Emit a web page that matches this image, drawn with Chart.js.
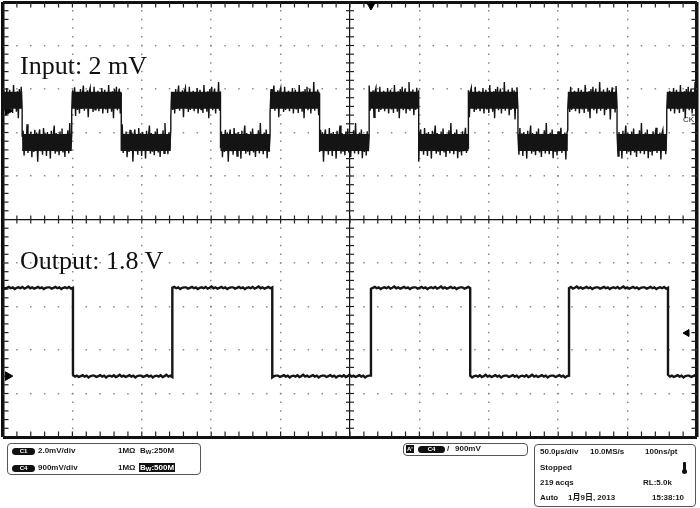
<!DOCTYPE html>
<html>
<head>
<meta charset="utf-8">
<script src="https://cdn.jsdelivr.net/npm/chart.js@4.4.1/dist/chart.umd.min.js"></script>
<style>
body{margin:0;background:#fff;}
#wrap{position:relative;width:700px;height:508px;overflow:hidden;background:#fff;}
canvas{position:absolute;left:0;top:0;}
.t{position:absolute;white-space:nowrap;}
.serif{font-family:"Liberation Serif","DejaVu Serif",serif;font-size:26px;line-height:26px;color:#111;}
.st{font-family:"Liberation Sans",Arial,"Noto Sans CJK JP",sans-serif;font-weight:bold;font-size:8px;line-height:8px;color:#1a1a1a;}
.st sub{font-size:6px;line-height:6px;vertical-align:-1px;}
.box{position:absolute;border:1px solid #555;border-radius:4px;box-sizing:border-box;}
.pill{position:absolute;background:#111;color:#fff;border-radius:4px;font-family:"Liberation Sans",Arial,sans-serif;font-weight:bold;font-size:6px;line-height:7px;height:7px;text-align:center;}
.inv{position:absolute;background:#111;color:#fff;font-family:"Liberation Sans",Arial,sans-serif;font-weight:bold;font-size:8px;line-height:9px;height:9px;padding:0 1px;}
</style>
</head>
<body>
<div id="wrap">
<canvas id="c" width="700" height="508"></canvas>
<div class="t serif" style="left:20px;top:53px">Input: 2 mV</div>
<div class="t serif" style="left:20px;top:248px">Output: 1.8 V</div>
<div class="t st" style="left:683px;top:116px;font-weight:normal;font-size:8px;">CK</div>

<div class="box" style="left:7px;top:443px;width:194px;height:32px"></div>
<div class="pill" style="left:12px;top:448px;width:23px">C1</div>
<div class="t st" style="left:38px;top:447px">2.0mV/div</div>
<div class="t st" style="left:118px;top:447px">1MΩ</div>
<div class="t st" style="left:140px;top:447px">B<sub>W</sub>:250M</div>
<div class="pill" style="left:12px;top:465px;width:23px">C4</div>
<div class="t st" style="left:38px;top:464px">900mV/div</div>
<div class="t st" style="left:118px;top:464px">1MΩ</div>
<div class="inv st" style="left:139px;top:463px;color:#fff">B<sub>W</sub>:500M</div>

<div class="box" style="left:403px;top:443px;width:125px;height:13px"></div>
<div class="inv st" style="left:406px;top:445px;height:8px;line-height:8px;font-size:6px;color:#fff">A'</div>
<div class="pill" style="left:418px;top:446px;width:27px">C4</div>
<div class="t st" style="left:447px;top:445px">/</div>
<div class="t st" style="left:455px;top:445px">900mV</div>

<div class="box" style="left:534px;top:444px;width:162px;height:63px"></div>
<div class="t st" style="left:540px;top:448px">50.0µs/div</div>
<div class="t st" style="left:590px;top:448px">10.0MS/s</div>
<div class="t st" style="left:645px;top:448px">100ns/pt</div>
<div class="t st" style="left:540px;top:464px">Stopped</div>
<div style="position:absolute;left:683px;top:462px;width:3px;height:9px;background:#111;border-radius:1px"></div>
<div style="position:absolute;left:682px;top:469px;width:5px;height:5px;background:#111;border-radius:50%"></div>
<div class="t st" style="left:540px;top:479px">219 acqs</div>
<div class="t st" style="left:643px;top:479px">RL:5.0k</div>
<div class="t st" style="left:540px;top:494px">Auto</div>
<div class="t st" style="left:568px;top:494px">1月9日, 2013</div>
<div class="t st" style="left:652px;top:494px">15:38:10</div>
</div>

<script>
// ---- Data (time in µs, vertical values in screen divisions) ----
const timeRange = [-250, 250];           // 50 µs/div, 10 divisions
const levelRange = [-5, 5];              // 10 vertical divisions
const inputEdges = [-236.2, -200.5, -164.8, -129.1, -93.3, -57.6, -21.9, 13.8, 49.5, 85.3, 121.0, 156.9, 192.4, 228.2];
const inputLevels = [2.74, 1.77];        // [high, low] (starts high)
const inputNoise = [0.22,-0.25,0.12,-0.18,0.28,-0.3,0.08,0.24,-0.21,0.19,-0.29,0.35,-0.14,0.17,-0.26,0.21,-0.41,0.26,-0.16,0.31,
  -0.23,0.13,0.27,-0.3,0.18,-0.19,0.42,-0.24,0.2,-0.13,0.25,-0.34,0.16,-0.22,0.29,-0.17,0.23,-0.44,0.14,0.3,
  -0.2,0.18,-0.28,0.33,-0.15,0.21,-0.31,0.24,-0.12,0.19,-0.37,0.27,-0.18,0.15,0.39,-0.26,0.22,-0.21,0.12,-0.29,
  0.25,-0.16,0.32,-0.23,0.17,-0.33,0.2,-0.11,0.28,-0.25,0.45,-0.19,0.16,-0.27,0.23,-0.14,0.3,-0.36,0.19,-0.22,
  0.17,-0.3,0.26,-0.2,0.13,0.34,-0.24,0.19,-0.15,0.23,-0.39,0.2,0.29,-0.18,0.14,-0.27,0.31,-0.22,0.16,-0.13];
const outputEdges = [-199.6, -128.0, -56.0, 15.1, 86.6, 157.8, 229.1];
const outputLevels = [-1.57, -3.60];     // [high, low] (starts high)
const outputNoise = [0.01,-0.02,0.0,0.02,-0.01,0.01,-0.03,0.0,0.01,-0.01,0.02,-0.02,0.0,0.03,-0.01,0.01,-0.02,0.0,0.02,-0.01,0.01,-0.03,0.0,0.01];
const triggerTime = 15.1;
const triggerLevel = -2.61;
const ch1Marker = 2.5;
const ch4Ground = -3.60;

function buildTrace(edges, levels, noise, step) {
  const pts = [];
  let k = 0;
  for (let s = 0; s <= edges.length; s++) {
    const a = s === 0 ? timeRange[0] : edges[s - 1];
    const b = s === edges.length ? timeRange[1] : edges[s];
    const lvl = levels[s % 2];
    const count = Math.max(1, Math.round((b - a) / step));
    for (let j = 0; j <= count; j++) {
      pts.push({x: a + (b - a) * j / count, y: lvl + noise[k++ % noise.length]});
    }
  }
  return pts;
}
// plateau bands (dense noise core), broken at each transition
function buildBands(edges, levels) {
  const pts = [];
  for (let s = 0; s <= edges.length; s++) {
    const a = s === 0 ? timeRange[0] : edges[s - 1];
    const b = s === edges.length ? timeRange[1] : edges[s];
    pts.push({x: a, y: levels[s % 2]}, {x: b, y: levels[s % 2]}, {x: b, y: null});
  }
  return pts;
}

const minorX = 10, minorY = 0.2;
const borderTicksV = [], borderTicksH = [], centerTicksV = [], centerTicksH = [];
for (let i = 0; i <= 50; i++) {
  const t = timeRange[0] + i * minorX;
  borderTicksV.push({x: t, y: levelRange[1]}, {x: t, y: levelRange[0]});
  centerTicksV.push({x: t, y: 0});
  const v = levelRange[0] + i * minorY;
  borderTicksH.push({x: timeRange[0], y: v}, {x: timeRange[1], y: v});
  centerTicksH.push({x: 0, y: v});
}

const isEdgeOrCenter = (v, lo, hi) => Math.abs(v - lo) < 1e-6 || Math.abs(v - hi) < 1e-6 || Math.abs(v) < 1e-6;
const isEdge = (v, lo, hi) => Math.abs(v - lo) < 1e-6 || Math.abs(v - hi) < 1e-6;

new Chart(document.getElementById('c'), {
  type: 'scatter',
  data: {
    datasets: [
      {data: buildTrace(inputEdges, inputLevels, inputNoise, 0.7), showLine: true, borderColor: '#141414', borderWidth: 1.4, pointRadius: 0},
      {data: buildBands(inputEdges, inputLevels), showLine: true, borderColor: '#181818', borderWidth: 17, borderCapStyle: 'butt', pointRadius: 0, spanGaps: false},
      {data: buildTrace(outputEdges, outputLevels, outputNoise, 1.4), showLine: true, borderColor: '#151515', borderWidth: 2.4, pointRadius: 0},
      {data: [{x: triggerTime, y: 4.93}], pointStyle: 'triangle', pointRotation: 180, pointRadius: 5, pointBackgroundColor: '#000', pointBorderColor: '#000', clip: false},
      {data: [{x: -246.5, y: ch4Ground}, {x: -246.5, y: ch1Marker}], pointStyle: 'triangle', pointRotation: 90, pointRadius: 5, pointBackgroundColor: '#000', pointBorderColor: '#000', clip: false},
      {data: [{x: 242.8, y: triggerLevel}], pointStyle: 'triangle', pointRotation: -90, pointRadius: 4, pointBackgroundColor: '#000', pointBorderColor: '#000', clip: false},
      {data: borderTicksV, pointStyle: 'line', pointRotation: 90, pointRadius: 5.5, pointBorderColor: '#222', pointBorderWidth: 1.2, clip: 0},
      {data: borderTicksH, pointStyle: 'line', pointRotation: 0, pointRadius: 5.5, pointBorderColor: '#222', pointBorderWidth: 1.2, clip: 0},
      {data: centerTicksV, pointStyle: 'line', pointRotation: 90, pointRadius: 4, pointBorderColor: '#222', pointBorderWidth: 1.2, clip: 0},
      {data: centerTicksH, pointStyle: 'line', pointRotation: 0, pointRadius: 4, pointBorderColor: '#222', pointBorderWidth: 1.2, clip: 0}
    ]
  },
  options: {
    responsive: false,
    animation: false,
    events: [],
    layout: {autoPadding: false, padding: {left: 3, right: 3, top: 2, bottom: 71}},
    plugins: {legend: {display: false}, tooltip: {enabled: false}},
    scales: {
      x: {
        type: 'linear', min: timeRange[0], max: timeRange[1],
        ticks: {display: false, stepSize: 50},
        grid: {
          drawTicks: false,
          color: c => isEdgeOrCenter(c.tick.value, -250, 250) ? '#111' : '#8a8a8a',
          lineWidth: c => isEdge(c.tick.value, -250, 250) ? 3.5 : (Math.abs(c.tick.value) < 1e-6 ? 1.2 : 1.5)
        },
        border: {display: false, dash: c => isEdgeOrCenter(c.tick.value, -250, 250) ? [] : [1.5, 7.2], dashOffset: 0.75}
      },
      y: {
        type: 'linear', min: levelRange[0], max: levelRange[1],
        ticks: {display: false, stepSize: 1},
        grid: {
          drawTicks: false,
          color: c => isEdgeOrCenter(c.tick.value, -5, 5) ? '#111' : '#8a8a8a',
          lineWidth: c => isEdge(c.tick.value, -5, 5) ? 3 : (Math.abs(c.tick.value) < 1e-6 ? 1.2 : 1.5)
        },
        border: {display: false, dash: c => isEdgeOrCenter(c.tick.value, -5, 5) ? [] : [1.5, 12.38], dashOffset: 0.75}
      }
    }
  }
});
</script>
</body>
</html>
